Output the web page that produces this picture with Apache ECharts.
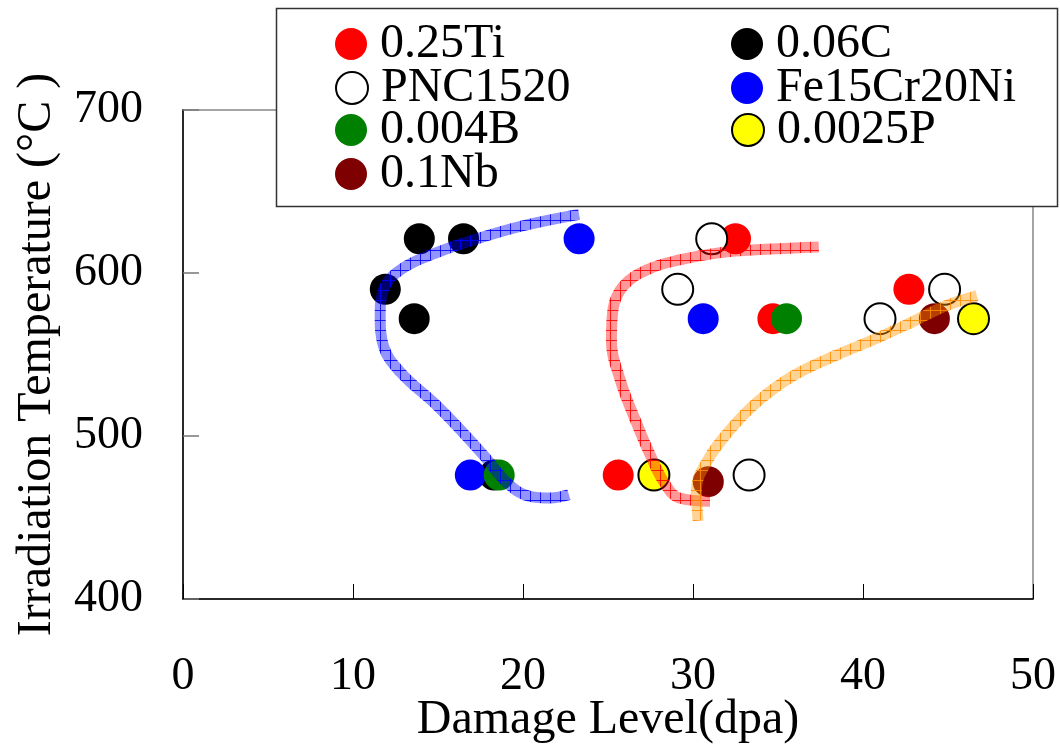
<!DOCTYPE html>
<html>
<head>
<meta charset="utf-8">
<script src="https://cdn.jsdelivr.net/npm/echarts@6/dist/echarts.min.js"></script>
<style>html,body{margin:0;padding:0;background:#fff}#c{width:1060px;height:748px}</style>
</head>
<body>
<div id="c"></div>
<script>
// ---- data ----
const xTicks = [0, 10, 20, 30, 40, 50];
const yTicks = [400, 500, 600, 700];
const seriesNames = ['0.25Ti', '0.06C', 'PNC1520', 'Fe15Cr20Ni', '0.004B', '0.0025P', '0.1Nb'];
const ti025 = [[32.5, 621], [34.7, 572], [42.7, 590], [25.6, 476]];
const c006 = [[13.9, 621], [16.5, 621], [11.9, 590], [13.6, 572], [18.3, 476]];
const pnc1520 = [[31.1, 621], [29.1, 590], [44.8, 590], [41.0, 572], [33.3, 476]];
const fe15cr20ni = [[23.3, 621], [30.6, 572], [16.9, 476]];
const b0004 = [[35.5, 572], [18.6, 476]];
const p00025 = [[46.5, 572], [27.7, 476]];
const nb01 = [[44.2, 572], [30.9, 472]];
const blueCurve = [[23.3, 636], [20.0, 629], [17.3, 621], [14.8, 612], [12.8, 602], [11.8, 590], [11.6, 574], [11.8, 555], [12.8, 539], [14.8, 520], [16.3, 504], [17.7, 488], [19.1, 471], [20.4, 463], [21.6, 462], [22.7, 464]];
const redCurve = [[37.4, 616], [34.3, 614.5], [31.6, 612.5], [29.2, 608], [27.3, 602], [25.9, 592], [25.3, 578], [25.2, 559], [25.7, 535], [26.6, 510], [27.5, 488], [28.3, 471.5], [29.2, 462], [31.0, 460]];
const orangeCurve = [[30.3, 448], [30.2, 467], [30.8, 484], [32.2, 504], [33.9, 522], [35.9, 537], [38.3, 549], [40.6, 559], [42.9, 570], [44.9, 580], [46.7, 586]];

const FONT = '"Liberation Serif","Times New Roman",serif';

function hatch(fill, line) {
  const c = document.createElement('canvas');
  c.width = 10; c.height = 10;
  const g = c.getContext('2d');
  g.fillStyle = fill; g.fillRect(0, 0, 10, 10);
  g.strokeStyle = line; g.lineWidth = 1;
  g.beginPath(); g.moveTo(0.5, 0); g.lineTo(0.5, 10); g.moveTo(0, 0.5); g.lineTo(10, 0.5); g.stroke();
  return { image: c, repeat: 'repeat' };
}

const styles = {
  '0.25Ti': { color: '#ff0000' },
  '0.06C': { color: '#000000' },
  'PNC1520': { color: '#ffffff', borderColor: '#000000', borderWidth: 2 },
  'Fe15Cr20Ni': { color: '#0000ff' },
  '0.004B': { color: '#008000' },
  '0.0025P': { color: '#ffff00', borderColor: '#000000', borderWidth: 2 },
  '0.1Nb': { color: '#7f0000' }
};
const dataMap = {
  '0.25Ti': ti025, '0.06C': c006, 'PNC1520': pnc1520, 'Fe15Cr20Ni': fe15cr20ni,
  '0.004B': b0004, '0.0025P': p00025, '0.1Nb': nb01
};
// legend layout (pixel positions: left of marker, centre y of row)
const legendPos = {
  '0.25Ti': [335, 43], 'PNC1520': [335, 87], '0.004B': [335, 129], '0.1Nb': [335, 173],
  '0.06C': [731, 43], 'Fe15Cr20Ni': [731, 87], '0.0025P': [731, 129]
};

const scatterSeries = seriesNames.map(n => ({
  name: n, type: 'scatter', data: dataMap[n], symbol: 'circle', symbolSize: 31,
  itemStyle: Object.assign({ opacity: 1 }, styles[n]), z: 2
}));

function curve(data, fill, line) {
  return {
    type: 'line', data: data, smooth: 0.4, showSymbol: false, silent: true, z: 3,
    lineStyle: { width: 11, color: hatch(fill, line), cap: 'butt', join: 'round' }
  };
}

const legendText = { fontFamily: FONT, fontSize: 48, color: '#000', padding: [0, 0, 0, 8] };
const legends = seriesNames.map(n => ({
  z: 20, orient: 'vertical', left: legendPos[n][0], top: legendPos[n][1] - 23, padding: 0,
  itemWidth: 32, itemHeight: 32, icon: 'circle', data: [n], textStyle: legendText, selectedMode: false
}));

const option = {
  animation: false,
  backgroundColor: '#fff',
  grid: { left: 183, right: 27, top: 110, bottom: 149, outerBoundsMode: 'none', containLabel: false,
          show: true, borderColor: '#888', borderWidth: 1.5, backgroundColor: 'transparent' },
  graphic: [{
    type: 'rect', z: 10, shape: { x: 276.5, y: 8.5, width: 781, height: 198 },
    style: { fill: '#fff', stroke: '#333', lineWidth: 1.5 }
  }],
  legend: legends,
  xAxis: {
    type: 'value', min: xTicks[0], max: xTicks[xTicks.length - 1], interval: 10,
    name: 'Damage Level(dpa)', nameLocation: 'middle', nameGap: 97, nameMoveOverlap: false,
    nameTextStyle: { fontFamily: FONT, fontSize: 48, color: '#000' },
    axisLine: { show: true, lineStyle: { color: '#000', width: 1.5 } },
    axisTick: { show: true, inside: true, length: 15, lineStyle: { color: '#000', width: 1 } },
    axisLabel: { fontFamily: FONT, fontSize: 46, color: '#000', margin: 55 },
    splitLine: { show: false }
  },
  yAxis: {
    type: 'value', min: yTicks[0], max: yTicks[yTicks.length - 1], interval: 100,
    name: 'Irradiation Temperature (°C )', nameLocation: 'middle', nameGap: 122, nameMoveOverlap: false,
    nameTextStyle: { fontFamily: FONT, fontSize: 48, color: '#000' },
    axisLine: { show: true, lineStyle: { color: '#000', width: 1.5 } },
    axisTick: { show: true, inside: true, length: 16, lineStyle: { color: '#777', width: 1.5 } },
    axisLabel: { fontFamily: FONT, fontSize: 46, color: '#000', margin: 40 },
    splitLine: { show: false }
  },
  series: scatterSeries.concat([
    curve(blueCurve, 'rgba(0,0,255,0.42)', 'rgba(0,0,255,0.85)'),
    curve(redCurve, 'rgba(255,0,0,0.4)', 'rgba(255,0,0,0.85)'),
    curve(orangeCurve, 'rgba(255,150,0,0.42)', 'rgba(255,140,0,0.85)')
  ])
};

const chart = echarts.init(document.getElementById('c'), null, { renderer: 'canvas' });
chart.setOption(option);
</script>
</body>
</html>
